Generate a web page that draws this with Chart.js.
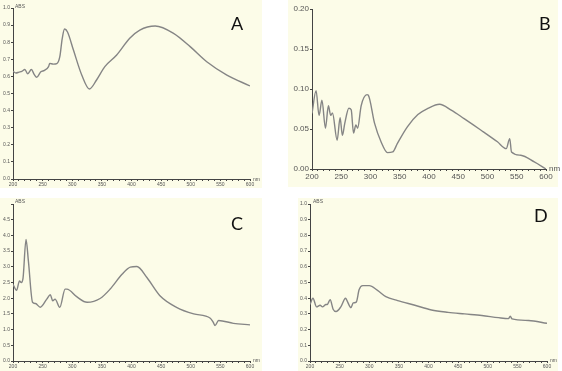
<!DOCTYPE html>
<html lang="en">
<head>
    <meta charset="UTF-8">
    <title>Absorption spectra A-D</title>
    <style>
        html, body {
            margin: 0;
            padding: 0;
            width: 562px;
            height: 371px;
            background-color: #ffffff;
            font-family: "Liberation Sans", Arial, sans-serif;
            overflow: hidden;
        }

        .panel {
            position: absolute;
            background-color: #fcfce8;
        }

        .panel canvas {
            position: absolute;
            left: 0;
            top: 0;
        }

        .tag {
            position: absolute;
            font-family: Lato, "Noto Sans", sans-serif;
            font-size: 18px;
            color: #111;
            line-height: 1;
        }

        .unit {
            position: absolute;
            font-size: 5px;
            color: #555;
            line-height: 1;
        }
    </style>
    <script src="https://cdn.jsdelivr.net/npm/chart.js"></script>
</head>
<body>
    <div class="panel" id="pA" style="left:0px; top:0px; width:262px; height:188px;"><canvas id="chartA"></canvas></div>
    <div class="panel" id="pB" style="left:288px; top:0px; width:270px; height:187px;"><canvas id="chartB"></canvas></div>
    <div class="panel" id="pC" style="left:0px; top:198px; width:262px; height:173px;"><canvas id="chartC"></canvas></div>
    <div class="panel" id="pD" style="left:298px; top:198px; width:260px; height:173px;"><canvas id="chartD"></canvas></div>

    <!-- letters + axis units -->
    <div class="tag" style="left:231px; top:14px;">A</div>
    <div class="tag" style="left:539px; top:14px;">B</div>
    <div class="tag" style="left:231px; top:214px;">C</div>
    <div class="tag" style="left:534px; top:206px;">D</div>

    <div class="unit" style="left:15px; top:4px;">ABS</div>
    <div class="unit" style="left:253px; top:177px;">nm</div>
    <div class="unit" style="left:549px; top:165px; font-size:8px;">nm</div>
    <div class="unit" style="left:15px; top:199px;">ABS</div>
    <div class="unit" style="left:253px; top:358px;">nm</div>
    <div class="unit" style="left:313px; top:199px;">ABS</div>
    <div class="unit" style="left:550px; top:358px;">nm</div>

    <script>
        // --- datos (nm, absorbancia) ---
        const aWave = [200, 205, 210, 215, 220, 225, 231, 236, 240, 247, 253, 260, 262, 268, 274, 279, 283, 287, 292, 302, 316, 329, 341, 355, 375, 397, 414, 440, 471, 499, 527, 561, 600];
        const aAbs  = [0.63, 0.62, 0.625, 0.63, 0.64, 0.615, 0.64, 0.61, 0.595, 0.627, 0.635, 0.657, 0.676, 0.672, 0.675, 0.715, 0.82, 0.877, 0.86, 0.754, 0.608, 0.526, 0.579, 0.657, 0.725, 0.823, 0.871, 0.895, 0.852, 0.774, 0.686, 0.608, 0.544];

        const bWave = [200, 207, 212, 217, 223, 228, 232, 235, 243, 248, 252, 256, 263, 267, 271, 275, 278, 284, 294, 296, 307, 318, 329, 338, 346, 363, 381, 398, 418, 438, 460, 489, 517, 532, 538, 541, 557, 580, 600];
        const bAbs  = [0.0695, 0.098, 0.067, 0.086, 0.051, 0.079, 0.067, 0.070, 0.036, 0.064, 0.042, 0.057, 0.076, 0.074, 0.045, 0.055, 0.051, 0.079, 0.093, 0.0925, 0.057, 0.034, 0.0205, 0.0213, 0.032, 0.0527, 0.068, 0.0757, 0.081, 0.0736, 0.063, 0.0485, 0.034, 0.0255, 0.038, 0.0213, 0.0172, 0.0088, 0.0];

        const cWave = [200, 206, 211, 214, 217, 222, 226, 233, 238, 246, 257, 263, 267, 271, 279, 288, 291, 308, 325, 347, 364, 384, 398, 409, 426, 448, 476, 505, 533, 538, 541, 547, 572, 600];
        const cAbs  = [2.44, 2.25, 2.55, 2.5, 2.65, 3.87, 3.18, 1.87, 1.83, 1.71, 1.97, 2.11, 1.92, 1.97, 1.71, 2.29, 2.29, 2.04, 1.87, 1.99, 2.29, 2.76, 2.99, 3.01, 2.66, 2.08, 1.71, 1.5, 1.36, 1.23, 1.13, 1.29, 1.2, 1.15];

        const dWave = [200, 205, 211, 217, 221, 227, 229, 234, 239, 244, 252, 260, 263, 269, 273, 278, 283, 289, 300, 314, 328, 348, 377, 405, 433, 461, 490, 518, 535, 538, 541, 569, 600];
        const dAbs  = [0.36, 0.40, 0.345, 0.355, 0.345, 0.36, 0.36, 0.39, 0.33, 0.315, 0.345, 0.40, 0.38, 0.34, 0.37, 0.375, 0.455, 0.48, 0.48, 0.45, 0.41, 0.385, 0.355, 0.325, 0.31, 0.30, 0.29, 0.276, 0.27, 0.285, 0.268, 0.258, 0.24];

        const axisColor = '#444';
        const labelColor = '#555';

        function toPoints(xs, ys) {
            return xs.map((x, i) => ({ x: x, y: ys[i] }));
        }

        function makePanel(id, cfg) {
            const panel = document.getElementById(cfg.panel);
            const cv = document.getElementById(id);
            cv.width = panel.clientWidth;
            cv.height = panel.clientHeight;
            cv.style.width = panel.clientWidth + 'px';
            cv.style.height = panel.clientHeight + 'px';

            return new Chart(cv.getContext('2d'), {
                type: 'line',
                data: {
                    datasets: [{
                        data: toPoints(cfg.xs, cfg.ys),
                        borderColor: '#858585',
                        borderWidth: 1.4,
                        pointRadius: 0,
                        fill: false,
                        cubicInterpolationMode: 'monotone'
                    }]
                },
                options: {
                    responsive: false,
                    animation: false,
                    plugins: { legend: { display: false }, tooltip: { enabled: false } },
                    layout: { padding: { left: 0, right: cfg.right, top: cfg.top, bottom: 0 } },
                    scales: {
                        x: {
                            type: 'linear',
                            min: 200,
                            max: 600,
                            afterFit: s => { s.height = cfg.xh; },
                            border: { color: axisColor, width: 1 },
                            grid: { drawOnChartArea: false, tickLength: 2, color: axisColor },
                            ticks: {
                                stepSize: 10,
                                autoSkip: false,
                                maxRotation: 0,
                                padding: 1,
                                color: labelColor,
                                font: { size: cfg.font, family: cfg.family },
                                callback: v => (Math.round(v) % 50 === 0 ? String(Math.round(v)) : '')
                            }
                        },
                        y: {
                            min: 0,
                            max: cfg.ymax,
                            afterFit: s => { s.width = cfg.yw; },
                            border: { color: axisColor, width: 1 },
                            grid: { drawOnChartArea: false, tickLength: 2, color: axisColor },
                            ticks: {
                                stepSize: cfg.ystep,
                                padding: 1,
                                color: labelColor,
                                font: { size: cfg.font, family: cfg.family },
                                callback: v => (cfg.hideTop && Math.abs(v - cfg.ymax) < 1e-6) ? '' : Number(v).toFixed(cfg.dec)
                            }
                        }
                    }
                }
            });
        }

        makePanel('chartA', { panel: 'pA', xs: aWave, ys: aAbs, ymax: 1.0, ystep: 0.1, dec: 1, yw: 13, xh: 9, right: 12, top: 8, font: 5, family: 'Liberation Sans' });
        makePanel('chartB', { panel: 'pB', xs: bWave, ys: bAbs, ymax: 0.2, ystep: 0.05, dec: 2, yw: 24, xh: 18, right: 12, top: 9, font: 8, family: 'Liberation Sans Narrow, Liberation Sans' });
        makePanel('chartC', { panel: 'pC', xs: cWave, ys: cAbs, ymax: 5.0, ystep: 0.5, dec: 1, yw: 13, xh: 10, right: 12, top: 6, font: 5, family: 'Liberation Sans', hideTop: true });
        makePanel('chartD', { panel: 'pD', xs: dWave, ys: dAbs, ymax: 1.0, ystep: 0.1, dec: 1, yw: 12, xh: 10, right: 11, top: 6, font: 5, family: 'Liberation Sans' });
    </script>
</body>
</html>
